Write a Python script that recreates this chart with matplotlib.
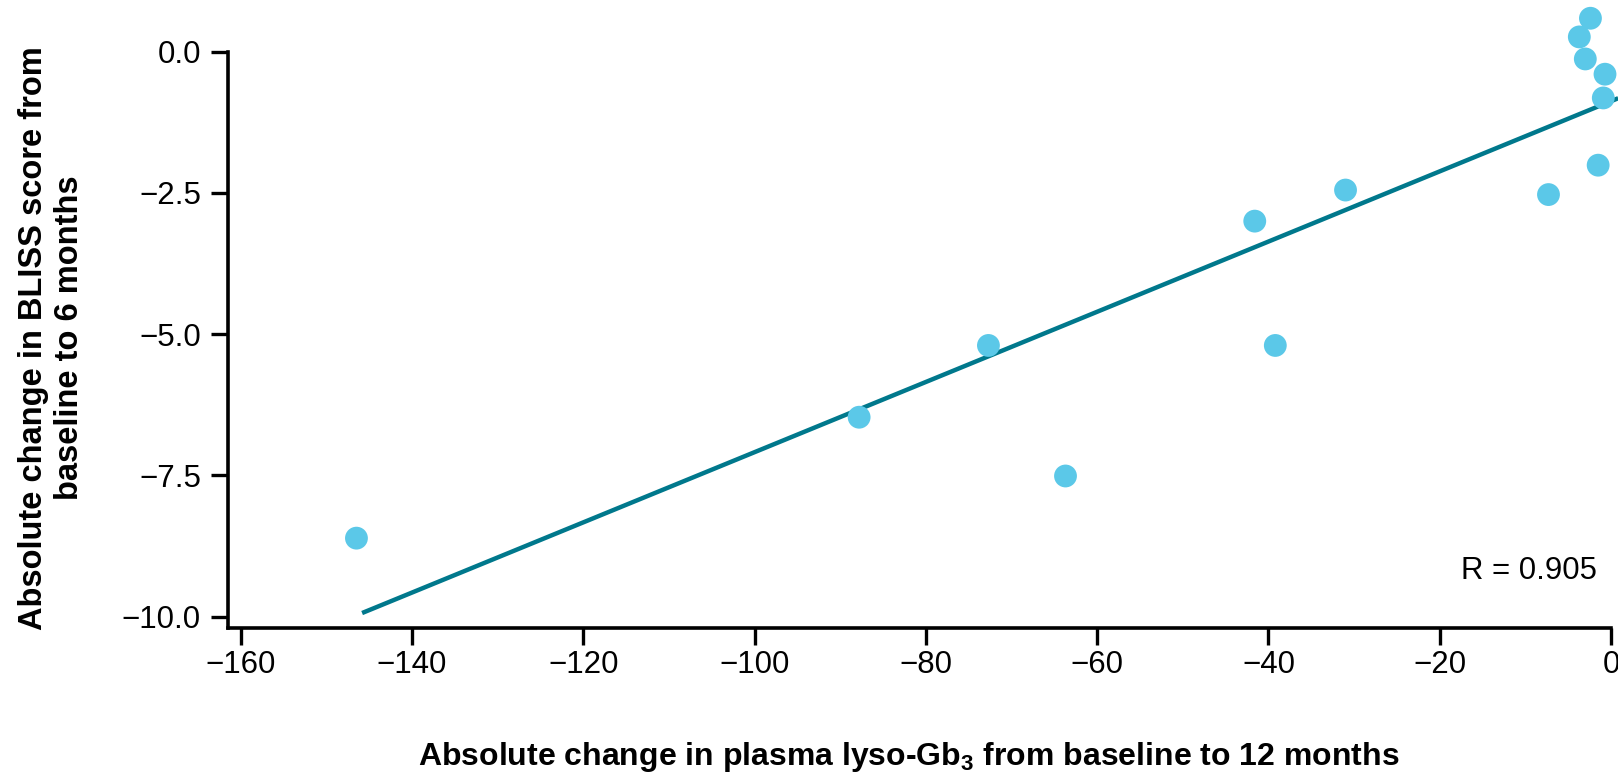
import matplotlib
matplotlib.use("Agg")
import matplotlib.pyplot as plt

plt.rcParams['font.family'] = ['Liberation Sans', 'DejaVu Sans']
plt.rcParams['mathtext.fontset'] = 'custom'
plt.rcParams['mathtext.rm'] = 'Liberation Sans:bold'
plt.rcParams['mathtext.bf'] = 'Liberation Sans:bold'
plt.rcParams['mathtext.default'] = 'rm'

lyso_change = [-146.5, -87.8, -72.7, -63.7, -41.6, -39.2, -31.0, -7.3,
               -1.5, -0.9, -0.7, -3.0, -3.7, -2.4]
bliss_change = [-8.61, -6.47, -5.20, -7.51, -3.00, -5.20, -2.45, -2.53,
                -2.01, -0.82, -0.40, -0.13, 0.26, 0.59]
fit_x = [-145.6, 0.6]
fit_y = [-9.92, -0.84]
x_ticks = [-160, -140, -120, -100, -80, -60, -40, -20, 0]
y_ticks = [0.0, -2.5, -5.0, -7.5, -10.0]
r_text = "R = 0.905"

W, H = 1618, 774
fig = plt.figure(figsize=(W / 100, H / 100), dpi=100)
ax = fig.add_axes([228 / W, 1 - 628 / H, (1611 - 228) / W, (628 - 51.6) / H])

ax.plot(fit_x, fit_y, color='#00788C', lw=3.2, clip_on=False, zorder=2)
ax.scatter(lyso_change, bliss_change, s=270, color='#5BC8E8', edgecolors='none',
           clip_on=False, zorder=3)

ax.set_xlim(-161.5, 0)
ax.set_ylim(-10.2, 0)
ax.set_xticks(x_ticks)
ax.set_xticklabels([f"\u2212{abs(v)}" if v < 0 else f"{v}" for v in x_ticks])
ax.set_yticks(y_ticks)
ax.set_yticklabels([f"\u2212{abs(v):.1f}" if v < 0 else f"{v:.1f}" for v in y_ticks])

for s in ['top', 'right']:
    ax.spines[s].set_visible(False)
for s in ['left', 'bottom']:
    ax.spines[s].set_linewidth(2.6)
ax.tick_params(axis='both', width=2.4, length=12.5, labelsize=22.5)
ax.tick_params(axis='x', pad=3)
ax.tick_params(axis='y', pad=7)

fig.text(909 / W, 9 / H,
         "Absolute change in plasma lyso-Gb$_3$ from baseline to 12 months",
         fontweight='bold', fontsize=23, ha='center', va='baseline')
fig.text(51.6 / W, 1 - 338 / H,
         "Absolute change in BLISS score from\nbaseline to 6 months",
         fontsize=23.5, fontweight='bold', rotation=90, ha='center', va='center',
         multialignment='center', linespacing=1.2)

fig.text(1596.7 / W, 1 - 579.3 / H, r_text, fontsize=22.4, ha='right', va='baseline')

fig.savefig("out.png", dpi=100)
